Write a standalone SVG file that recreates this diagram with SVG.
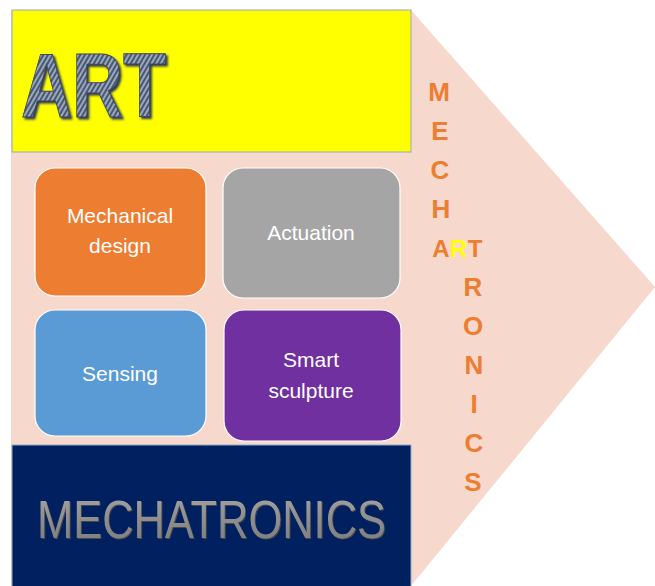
<svg xmlns="http://www.w3.org/2000/svg" width="655" height="586" viewBox="0 0 655 586">
<defs>
<pattern id="stripes" patternUnits="userSpaceOnUse" width="4" height="4" patternTransform="rotate(30)">
<rect width="4" height="4" fill="#9AA8BE"/>
<rect width="2" height="4" fill="#4A5870"/>
</pattern>
<linearGradient id="bevel" x1="0" y1="0" x2="0" y2="1">
<stop offset="0" stop-color="#A6A6A6"/>
<stop offset="0.5" stop-color="#8E8E8E"/>
<stop offset="1" stop-color="#7A7A7A"/>
</linearGradient>
<filter id="shadowArt" x="-10%" y="-10%" width="120%" height="130%">
<feDropShadow dx="2" dy="2" stdDeviation="0.8" flood-color="#2E3A50" flood-opacity="1"/>
</filter>
<filter id="shadowMech" x="-5%" y="-10%" width="110%" height="130%">
<feDropShadow dx="1" dy="1" stdDeviation="0.6" flood-color="#4A4A4A" flood-opacity="1"/>
</filter>
</defs>
<style>
.box{stroke:#FFFFFF;stroke-width:1.2}
.lbl{font-family:"Liberation Sans",Arial,sans-serif;font-size:21px;fill:#FFFFFF;text-anchor:middle}
.vl{font-family:"Liberation Sans",Arial,sans-serif;font-weight:bold;font-size:26px;fill:#ED7D31;text-anchor:middle}
.vs{font-size:24px}
</style>
<polygon id="arrow" points="11,10 411,10 655,287 411,586 11,586" fill="#F7D8CC"/>
<g id="art">
<rect x="12" y="10" width="399" height="142" fill="#FFFF00" stroke="#8FA9C5" stroke-width="1"/>
<text x="21" y="117" font-family="Liberation Sans,Arial,sans-serif" font-weight="bold" font-size="90" fill="url(#stripes)" stroke="#3A465C" stroke-width="1" textLength="145" lengthAdjust="spacingAndGlyphs" filter="url(#shadowArt)">ART</text>
</g>
<g id="mechatronics">
<rect x="12" y="445" width="399" height="145" fill="#002060" stroke="#8FA9C5" stroke-width="1"/>
<text x="37" y="538" font-family="Liberation Sans,Arial,sans-serif" font-size="53" fill="url(#bevel)" textLength="349" lengthAdjust="spacingAndGlyphs" filter="url(#shadowMech)">MECHATRONICS</text>
</g>
<g id="mechanical-design">
<rect class="box" x="35" y="168" width="171" height="128" rx="20" fill="#ED7D31"/>
<text class="lbl" x="120" y="223">Mechanical</text>
<text class="lbl" x="120" y="253">design</text>
</g>
<g id="actuation">
<rect class="box" x="223" y="168" width="177" height="130" rx="20" fill="#A5A5A5"/>
<text class="lbl" x="311" y="240">Actuation</text>
</g>
<g id="sensing">
<rect class="box" x="35" y="310" width="171" height="126" rx="20" fill="#5B9BD5"/>
<text class="lbl" x="120" y="381">Sensing</text>
</g>
<g id="smart-sculpture">
<rect class="box" x="224" y="310" width="177" height="131" rx="20" fill="#7030A0"/>
<text class="lbl" x="311" y="367">Smart</text>
<text class="lbl" x="311" y="398">sculpture</text>
</g>
<g id="vertical-word">
<text class="vl" x="439" y="101">M</text>
<text class="vl" x="440" y="140">E</text>
<text class="vl" x="440" y="179">C</text>
<text class="vl" x="441" y="218">H</text>
<text class="vl vs" x="441" y="257">A</text>
<text class="vl vs" x="458.5" y="257" style="fill:#FFFF00">R</text>
<text class="vl vs" x="475" y="257">T</text>
<text class="vl" x="473" y="296">R</text>
<text class="vl" x="473" y="335">O</text>
<text class="vl" x="474" y="374">N</text>
<text class="vl" x="474" y="413">I</text>
<text class="vl" x="474" y="452">C</text>
<text class="vl" x="473" y="491">S</text>
</g>
</svg>
